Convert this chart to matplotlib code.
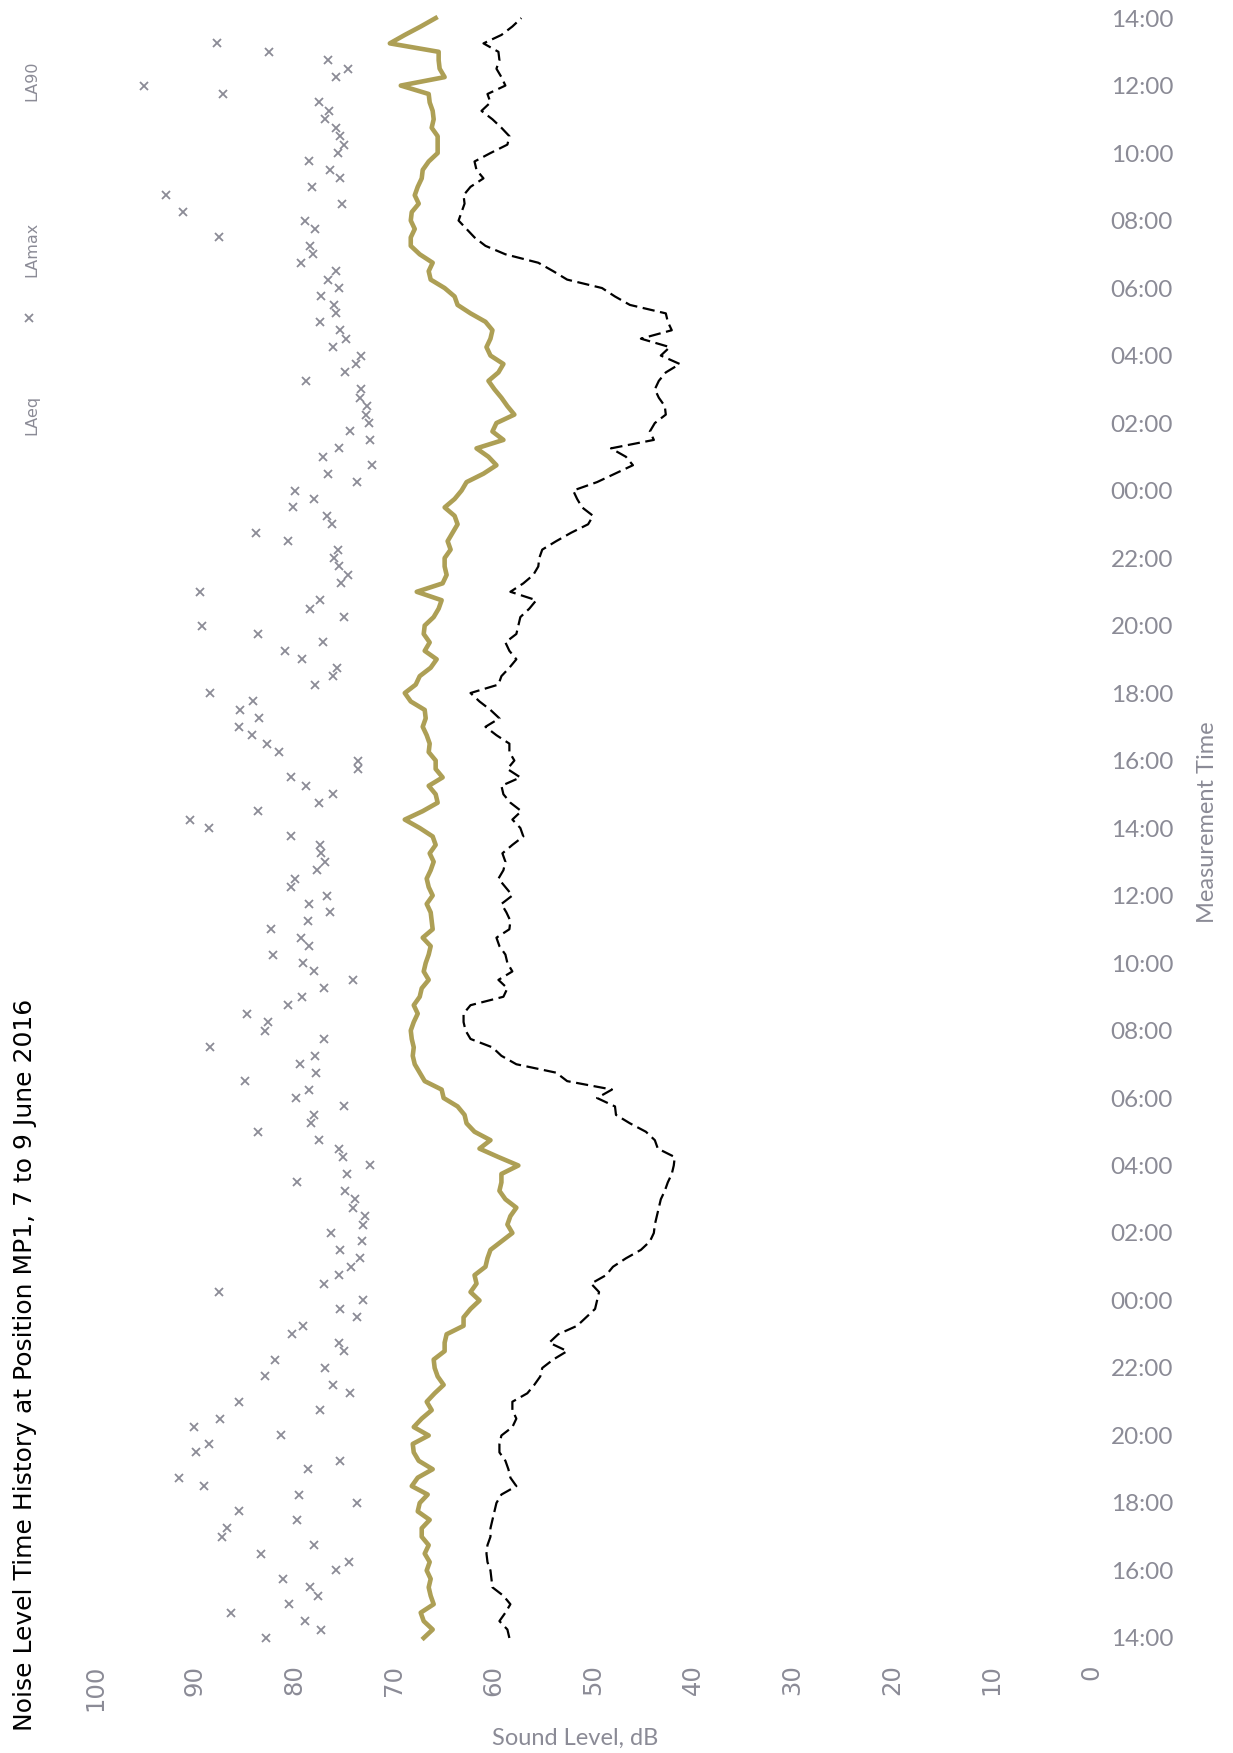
import matplotlib
matplotlib.use('Agg')
import matplotlib.pyplot as plt
import numpy as np

# 15-minute readings, 14:00 7 June to 14:00 9 June 2016
time_labels = ['14:00', '16:00', '18:00', '20:00', '22:00', '00:00', '02:00', '04:00',
               '06:00', '08:00', '10:00', '12:00', '14:00', '16:00', '18:00', '20:00',
               '22:00', '00:00', '02:00', '04:00', '06:00', '08:00', '10:00', '12:00', '14:00']

laeq = [67.0, 66.1, 67.0, 67.3, 66.0, 66.3, 66.5, 66.3, 66.7, 66.4, 66.9, 66.5, 67.2, 67.2, 66.4, 67.6,
        67.4, 66.6, 68.2, 67.6,
        66.1, 67.5, 68.0, 68.1, 66.5, 68.0, 67.2, 66.2, 66.7, 65.9, 65.0, 65.6, 65.9, 66.0, 64.9, 64.9,
        64.7, 63.0, 63.0, 62.3, 61.4,
        62.3, 61.7, 61.9, 60.8, 60.6, 60.3, 59.2, 58.1, 58.6, 58.3, 57.7, 58.8, 59.4, 59.2, 59.2, 57.5,
        59.5, 61.4, 60.3, 61.9, 62.7, 62.9,
        63.6, 65.0, 65.2, 66.9, 67.4, 67.9, 68.1, 68.0, 68.2, 68.3, 68.0, 67.6, 68.0, 67.4, 67.2, 66.5,
        67.0, 66.8, 66.5, 66.3, 67.1, 66.1,
        66.2, 66.3, 66.7, 66.1, 66.5, 66.7, 66.3, 66.0, 66.4, 65.8, 66.1, 67.4, 68.9, 67.1, 65.6, 65.8,
        66.5, 65.1, 65.8, 65.8, 66.5,
        66.4, 66.7, 67.1, 66.8, 66.9, 68.3, 68.9, 67.8, 67.4, 66.3, 65.7, 66.9, 66.4, 67.0, 66.9, 66.0,
        65.5, 65.2, 67.7, 65.1, 64.7, 64.9,
        64.9, 64.3, 64.6, 64.1, 63.6, 63.9, 64.9, 63.9, 63.2, 62.7, 61.0, 59.7, 60.5, 61.7, 59.0, 60.1,
        59.7, 57.9, 58.6, 59.2, 59.9, 60.5,
        59.5, 59.0, 60.3, 60.7, 60.3, 60.1, 60.8, 62.3, 63.6, 63.9, 64.9, 66.3, 66.5, 66.1, 67.4, 68.3,
        68.3, 67.9, 68.3, 68.2, 67.5,
        67.9, 67.6, 67.2, 67.1, 66.5, 65.6, 65.6, 65.6, 66.2, 66.0, 66.1, 66.4, 66.5, 69.3, 64.9, 65.4,
        65.5, 65.5, 70.4, 68.9, 67.3, 65.8]

lamax = [82.8, 77.3, 78.9, 86.3, 80.5, 77.6, 78.4, 81.1, 75.8, 74.5, 83.3, 78.0, 87.2, 86.7, 79.7, 85.5,
         73.7, 79.5, 89.1, 91.6,
         78.6, 75.4, 89.9, 88.6, 81.3, 90.1, 87.4, 77.4, 85.5, 74.4, 76.1, 82.9, 76.9, 81.9, 75.0, 75.5,
         80.2, 79.1, 73.7, 75.4, 73.1, 87.5,
         77.0, 75.5, 74.3, 73.4, 75.4, 73.2, 76.3, 73.1, 72.9, 74.1, 73.9, 74.9, 79.7, 74.7, 72.4, 75.1,
         75.5, 77.5, 83.6, 78.3, 78.0, 75.0,
         79.8, 78.5, 84.9, 77.8, 79.4, 77.9, 88.5, 77.0, 82.9, 82.6, 84.7, 80.6, 79.2, 77.0, 74.1, 78.0,
         79.1, 82.1, 78.5, 79.3, 82.3, 78.6,
         76.4, 78.5, 76.7, 80.3, 79.9, 77.7, 76.9, 77.3, 77.4, 80.3, 88.6, 90.5, 83.6, 77.5, 76.1, 78.8,
         80.3, 73.6, 73.6, 81.5, 82.7,
         84.2, 85.5, 83.5, 85.4, 84.1, 88.5, 77.9, 76.1, 75.7, 79.2, 80.9, 77.1, 83.6, 89.3, 75.0, 78.4,
         77.4, 89.5, 75.3, 74.6, 75.5, 76.0,
         75.6, 80.6, 83.8, 76.2, 76.7, 80.1, 78.0, 79.9, 73.7, 76.6, 72.2, 77.1, 75.5, 72.4, 74.4, 72.5,
         72.8, 72.7, 73.4, 73.3, 78.8, 74.9,
         73.8, 73.3, 76.1, 74.8, 75.4, 77.4, 75.8, 76.0, 77.3, 75.5, 76.6, 75.8, 79.3, 78.1, 78.4, 87.5,
         77.9, 78.9, 91.2, 75.2, 92.9,
         78.2, 75.4, 76.4, 78.5, 75.6, 75.0, 75.4, 75.8, 76.9, 76.5, 77.5, 87.1, 95.1, 75.8, 74.6, 76.6,
         82.5, 87.7]

la90 = [58.4, 58.6, 59.4, 58.8, 58.3, 59.0, 60.1, 60.2, 60.3, 60.6, 60.7, 60.6, 60.3, 60.3, 60.1, 59.9,
        59.7, 59.2, 57.7, 58.3,
        58.5, 58.8, 59.4, 59.4, 59.2, 58.1, 57.7, 58.1, 58.1, 56.6, 55.9, 55.3, 55.1, 54.0, 52.6, 54.4,
        53.5, 51.6, 50.7, 49.8, 49.6,
        49.4, 50.2, 48.7, 48.0, 46.7, 45.2, 44.3, 43.9, 43.8, 43.6, 43.4, 43.2, 42.8, 42.5, 42.1, 41.9,
        41.8, 43.5, 43.8, 44.7, 46.3, 47.7,
        47.8, 49.6, 48.1, 52.6, 53.7, 57.7, 59.2, 60.1, 62.3, 62.8, 63.0, 63.0, 62.3, 59.0, 58.6, 59.5,
        58.1, 58.6, 58.8, 59.4, 59.7, 58.4,
        58.3, 58.7, 59.2, 58.1, 58.8, 59.5, 59.0, 58.8, 59.1, 58.1, 57.0, 57.3, 58.1, 57.2, 58.3, 59.0,
        59.2, 57.3, 58.6, 57.9, 58.4,
        58.4, 59.7, 60.8, 59.4, 60.3, 61.4, 62.3, 59.5, 59.2, 58.4, 57.7, 58.4, 58.8, 57.7, 57.5, 57.3,
        56.4, 55.7, 58.3, 57.0, 56.0, 55.5,
        55.4, 55.1, 53.7, 52.2, 50.5, 50.0, 51.1, 51.6, 52.0, 49.6, 47.8, 46.0, 46.7, 48.2, 43.9, 44.3,
        43.8, 42.7, 42.8, 43.4, 43.8, 43.4,
        42.7, 41.3, 43.2, 42.3, 45.2, 42.1, 42.5, 42.7, 46.3, 47.8, 49.1, 52.6, 54.0, 55.5, 58.8, 60.8,
        61.9, 62.7, 63.5, 63.2, 62.9,
        63.0, 62.3, 61.0, 61.7, 61.9, 60.3, 58.6, 58.4, 59.2, 60.1, 61.2, 60.3, 60.6, 58.8, 59.2, 59.7,
        59.4, 59.5, 61.0, 59.2, 58.1, 57.2]

level_ticks = list(range(100, -1, -10))

grey = '#8b8b96'
olive = '#ad9f55'
narrow = ['Lato', 'DejaVu Sans']

fig = plt.figure(figsize=(12.33, 17.53), dpi=100)
ax = fig.add_axes([0.077, 0.0584, 0.808, 0.9337])

t = np.arange(len(laeq))
ax.plot(laeq, t, color=olive, lw=3.3)
ax.plot(lamax, np.arange(len(lamax)), 'x', color=grey, ms=6, mew=1.3)
ax.plot(la90, t, color='black', lw=1.6, dashes=(5.5, 2.5))

ax.set_xlim(100, 0)
ax.set_ylim(-1.5, 192.5)
ax.set_xticks(level_ticks)
ax.set_xticklabels([str(v) for v in level_ticks], rotation=90, va='top', ha='center',
                   fontsize=17.5, color=grey)
ax.set_yticks(np.arange(0, len(laeq), 8))
ax.set_yticklabels(time_labels, fontsize=17.5, color=grey, family=narrow)
ax.yaxis.tick_right()
ax.tick_params(axis='x', length=0, pad=10)
ax.tick_params(axis='y', length=0, pad=14)
for s in ax.spines.values():
    s.set_visible(False)

fig.text(575 / 1233, 1 - 1738 / 1753, 'Sound Level, dB', ha='center', va='center',
         fontsize=17, color=grey, family=narrow)
fig.text(1208 / 1233, 1 - 822 / 1753, 'Measurement Time', rotation=90, ha='center', va='center',
         fontsize=17, color=grey, family=narrow)
fig.text(25 / 1233, 1 - 1731 / 1753, 'Noise Level Time History at Position MP1, 7 to 9 June 2016',
         rotation=90, ha='center', va='bottom', fontsize=18, color='black')

# legend (rotated, top left)
fig.text(32 / 1233, 1 - 415 / 1753, 'LAeq', rotation=90, ha='center', va='center', fontsize=11.5, color=grey)
ax.plot([29 / 1233], [1 - 318 / 1753], 'x', color=grey, ms=6, mew=1.3,
        transform=fig.transFigure, clip_on=False)
fig.text(32 / 1233, 1 - 249 / 1753, 'LAmax', rotation=90, ha='center', va='center', fontsize=11.5, color=grey)
fig.text(32 / 1233, 1 - 81 / 1753, 'LA90', rotation=90, ha='center', va='center', fontsize=11.5, color=grey)

fig.savefig('out.png', dpi=100)
